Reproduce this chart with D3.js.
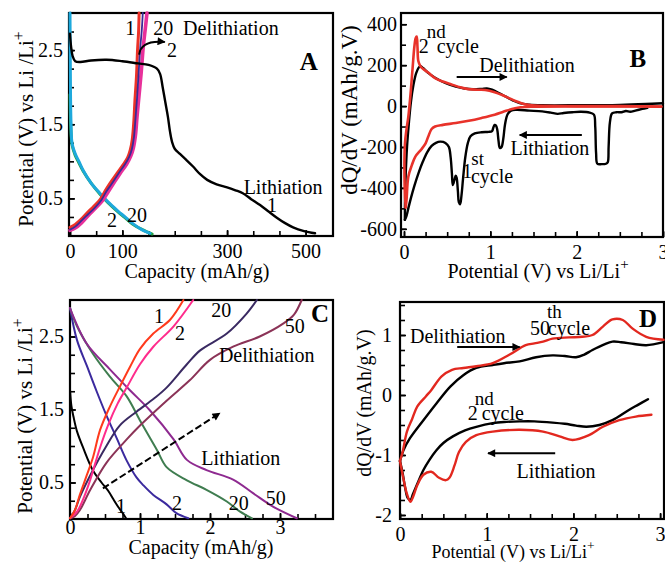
<!DOCTYPE html>
<html><head><meta charset="utf-8">
<script src="https://cdn.jsdelivr.net/npm/d3@7"></script>
<style>
body{margin:0;background:#fff}
text{font-family:"Liberation Serif","Times New Roman",serif;fill:#000}
</style>
</head><body><script>
// ---------------- DATA ----------------
// Panel A: capacity (mAh/g) vs potential (V)
const aLith1 = [[0,2.72],[2,2.55],[5,2.42],[10,2.35],[20,2.34],[40,2.36],[70,2.37],[100,2.35],[130,2.32],[150,2.3],[166,2.25],[172,2.18],[177,2.0],[182,1.8],[187,1.6],[191,1.4],[195,1.26],[200,1.17],[210,1.1],[222,1.02],[235,0.93],[248,0.83],[262,0.75],[280,0.69],[300,0.65],[316,0.61],[330,0.57],[346,0.49],[363,0.41],[380,0.32],[395,0.24],[410,0.17],[426,0.11],[447,0.06],[468,0.03]];
const aLith2 = [[0,1.9],[0.5,1.7],[1.5,1.45],[4,1.22],[10,1.08],[17,0.98],[25,0.87],[40,0.71],[57,0.56],[73,0.44],[90,0.33],[105,0.24],[120,0.15],[138,0.08],[157,0.02]];
const aLith20 = [[0,3.0],[0.5,2.4],[1,1.9],[2,1.5],[4,1.24],[10,1.1],[17,1.0],[25,0.88],[40,0.71],[57,0.57],[73,0.45],[90,0.34],[105,0.25],[120,0.16],[137,0.08],[153,0.03]];
const aDelith1 = [[0,0.11],[10,0.15],[20,0.21],[32,0.3],[45,0.39],[57,0.48],[67,0.6],[76,0.7],[90,0.84],[102,0.96],[110,1.05],[115,1.15],[119,1.3],[122,1.55],[124,1.82],[127,2.15],[129,2.5],[131,2.75],[132,3.0]];
const aDelith2 = [[0,0.08],[10,0.12],[22,0.2],[35,0.29],[48,0.38],[60,0.48],[70,0.6],[80,0.7],[93,0.84],[105,0.96],[113,1.06],[118,1.16],[122,1.32],[125,1.57],[128,1.85],[131,2.18],[134,2.52],[137,2.76],[139,3.0]];
const aDelith20 = [[0,0.07],[10,0.1],[22,0.17],[35,0.27],[49,0.37],[62,0.47],[73,0.59],[83,0.7],[96,0.84],[108,0.96],[116,1.07],[121,1.18],[125,1.35],[128,1.6],[132,1.9],[136,2.2],[140,2.55],[144,2.8],[147,3.0]];
const aXTicks = [0,50,100,150,200,250,300,350,400,450];
const aXLabelAt = [0,100,300,450];
const aXLabels = ["0","100","300","500"];
const aYTicks = [0.25,0.5,0.75,1,1.25,1.5,1.75,2,2.25,2.5,2.75];
const aYLabelAt = [0.5,1.5,2.5];
const aYLabels = ["0.5","1.5","2.5"];

// Panel B: potential (V) vs dQ/dV
const b1Lith = [[2.82,-8],[2.76,-14],[2.68,-22],[2.62,-28],[2.57,-24],[2.52,-30],[2.46,-30],[2.41,-36],[2.385,-80],[2.37,-200],[2.36,-275],[2.34,-282],[2.29,-284],[2.24,-282],[2.225,-230],[2.215,-100],[2.2,-42],[2.15,-32],[2.05,-28],[1.95,-30],[1.85,-34],[1.78,-38],[1.7,-32],[1.6,-26],[1.45,-22],[1.3,-18],[1.24,-22],[1.2,-40],[1.17,-90],[1.15,-160],[1.13,-200],[1.11,-205],[1.095,-170],[1.08,-115],[1.065,-95],[1.05,-92],[1.035,-105],[1.02,-122],[0.98,-126],[0.9,-128],[0.82,-134],[0.77,-148],[0.74,-180],[0.71,-250],[0.685,-350],[0.665,-440],[0.65,-480],[0.635,-470],[0.625,-420],[0.61,-350],[0.6,-340],[0.59,-352],[0.575,-375],[0.565,-386],[0.555,-330],[0.54,-250],[0.52,-200],[0.48,-180],[0.42,-174],[0.37,-180],[0.32,-195],[0.27,-225],[0.22,-270],[0.17,-325],[0.12,-390],[0.08,-450],[0.05,-500],[0.03,-535],[0.01,-556]];
const b1Delith = [[0.01,-556],[0.012,-450],[0.02,-330],[0.035,-200],[0.055,-90],[0.08,20],[0.11,105],[0.14,160],[0.17,188],[0.19,195],[0.22,186],[0.28,162],[0.36,138],[0.44,120],[0.52,106],[0.6,95],[0.7,86],[0.8,82],[0.9,84],[0.96,86],[1.02,80],[1.1,64],[1.18,46],[1.26,28],[1.34,14],[1.45,7],[1.6,4],[2.0,4],[2.5,6],[2.8,10],[3.0,14]];
const b2Lith = [[2.98,-3],[2.5,-2],[2.0,-2],[1.5,-3],[1.35,-6],[1.25,-14],[1.15,-28],[1.05,-42],[0.9,-58],[0.75,-72],[0.6,-83],[0.45,-92],[0.36,-100],[0.32,-112],[0.28,-150],[0.25,-182],[0.2,-212],[0.13,-248],[0.09,-290],[0.05,-345],[0.03,-455],[0.02,-495]];
const b2Delith = [[0.02,-495],[0.008,-400],[0.011,-184],[0.03,-110],[0.05,-53],[0.08,80],[0.1,188],[0.12,290],[0.135,332],[0.147,340],[0.156,290],[0.166,220],[0.19,195],[0.22,182],[0.28,164],[0.36,137],[0.45,120],[0.55,106],[0.65,92],[0.745,83],[0.85,80],[0.94,79],[1.05,68],[1.13,55],[1.21,40],[1.29,25],[1.36,14],[1.44,6],[1.52,2],[2.0,0],[2.5,0],[2.98,-2]];
const bXTicks = [0,0.25,0.5,0.75,1,1.25,1.5,1.75,2,2.25,2.5,2.75,3];
const bXLabelAt = [0,1,2,3];
const bXLabels = ["0","1","2","3"];
const bYTicks = [-600,-500,-400,-300,-200,-100,0,100,200,300,400];
const bYLabelAt = [-600,-400,-200,0,200,400];
const bYLabels = ["-600","-400","-200","0","200","400"];

// Panel C: capacity (mAh/g) vs potential (V)
const cLith1 = [[0,1.77],[0.02,1.55],[0.05,1.4],[0.1,1.2],[0.19,0.97],[0.33,0.66],[0.45,0.5],[0.55,0.38],[0.62,0.27],[0.7,0.15],[0.76,0.07],[0.8,0.01]];
const cLith2 = [[0,2.89],[0.1,2.45],[0.24,2.1],[0.38,1.75],[0.52,1.42],[0.67,1.1],[0.81,0.8],[0.95,0.57],[1.05,0.46],[1.19,0.33],[1.38,0.2],[1.52,0.08],[1.69,0.01]];
const cLith20 = [[0,2.89],[0.1,2.64],[0.33,2.26],[0.57,1.95],[0.81,1.68],[1.0,1.35],[1.24,0.95],[1.38,0.71],[1.67,0.53],[1.95,0.4],[2.24,0.24],[2.43,0.1],[2.6,0.01]];
const cLith50 = [[0,2.89],[0.24,2.4],[0.57,2.05],[0.86,1.76],[1.14,1.49],[1.48,1.09],[1.67,0.81],[1.95,0.67],[2.33,0.54],[2.62,0.35],[2.9,0.17],[3.24,0.01]];
const cDelith1 = [[0,0.01],[0.07,0.12],[0.14,0.33],[0.24,0.6],[0.33,0.85],[0.43,1.22],[0.57,1.54],[0.71,1.81],[0.86,2.09],[1.0,2.33],[1.19,2.54],[1.43,2.73],[1.62,3.0]];
const cDelith2 = [[0,0.01],[0.1,0.1],[0.2,0.3],[0.29,0.54],[0.43,0.98],[0.55,1.3],[0.68,1.58],[0.81,1.8],[1.0,2.12],[1.19,2.36],[1.48,2.64],[1.76,3.0]];
const cDelith20 = [[0,0.01],[0.07,0.12],[0.14,0.3],[0.29,0.6],[0.52,1.0],[0.71,1.28],[0.95,1.47],[1.2,1.65],[1.38,1.8],[1.67,2.12],[1.86,2.31],[2.24,2.54],[2.52,2.81],[2.67,3.0]];
const cDelith50 = [[0,0.01],[0.07,0.04],[0.14,0.12],[0.29,0.4],[0.52,0.77],[0.81,1.09],[1.0,1.28],[1.38,1.62],[1.71,1.9],[2.0,2.18],[2.33,2.36],[2.71,2.5],[3.05,2.68],[3.2,2.8],[3.31,3.0]];
const cXTicks = d3.range(0, 3.76, 0.25);
const cXLabelAt = [0,1,2,3];
const cXLabels = ["0","1","2","3"];
const cYTicks = [0.25,0.5,0.75,1,1.25,1.5,1.75,2,2.25,2.5,2.75];
const cYLabelAt = [0.5,1.5,2.5];
const cYLabels = ["0.5","1.5","2.5"];

// Panel D: potential (V) vs dQ/dV
const d2Delith = [[0.0,-1.1],[0.04,-0.92],[0.115,-0.72],[0.27,-0.42],[0.42,-0.14],[0.58,0.14],[0.73,0.33],[0.88,0.45],[1.07,0.5],[1.2,0.53],[1.38,0.56],[1.57,0.63],[1.76,0.66],[1.9,0.65],[2.03,0.63],[2.12,0.67],[2.22,0.75],[2.35,0.84],[2.45,0.89],[2.55,0.88],[2.7,0.85],[2.84,0.83],[3.04,0.88]];
const d2Lith = [[2.86,-0.07],[2.75,-0.16],[2.64,-0.25],[2.45,-0.42],[2.3,-0.5],[2.15,-0.53],[2.03,-0.51],[1.9,-0.48],[1.76,-0.46],[1.55,-0.44],[1.38,-0.44],[1.2,-0.45],[1.07,-0.47],[0.88,-0.53],[0.75,-0.59],[0.61,-0.69],[0.5,-0.8],[0.42,-0.92],[0.34,-1.08],[0.27,-1.25],[0.2,-1.48],[0.15,-1.65],[0.12,-1.75],[0.09,-1.72],[0.06,-1.55],[0.03,-1.3],[0.0,-1.1]];
const d50Delith = [[0.0,-1.1],[0.03,-0.95],[0.08,-0.61],[0.14,-0.4],[0.2,-0.19],[0.3,-0.02],[0.36,0.08],[0.48,0.31],[0.6,0.42],[0.73,0.45],[0.88,0.48],[1.07,0.53],[1.26,0.67],[1.45,0.83],[1.55,0.86],[1.65,0.89],[1.76,0.94],[1.95,0.96],[2.1,0.97],[2.22,1.0],[2.34,1.14],[2.45,1.26],[2.57,1.25],[2.68,1.11],[2.84,0.97],[3.04,0.92]];
const d50Lith = [[2.9,-0.33],[2.72,-0.36],[2.53,-0.42],[2.34,-0.53],[2.18,-0.67],[1.99,-0.75],[1.84,-0.69],[1.65,-0.61],[1.38,-0.58],[1.07,-0.61],[0.88,-0.67],[0.76,-0.78],[0.68,-0.95],[0.63,-1.17],[0.57,-1.38],[0.53,-1.42],[0.45,-1.38],[0.36,-1.28],[0.27,-1.33],[0.2,-1.5],[0.15,-1.7],[0.12,-1.78],[0.08,-1.65],[0.04,-1.4],[0.0,-1.1]];
const dXTicks = [0,0.25,0.5,0.75,1,1.25,1.5,1.75,2,2.25,2.5,2.75,3];
const dXLabelAt = [0,1,2,3];
const dXLabels = ["0","1","2","3"];
const dYTicks = d3.range(-2, 1.51, 0.25);
const dYLabelAt = [-2,-1,0,1];
const dYLabels = ["-2","-1","0","1"];

// ---------------- DRAWING ----------------
const FONT = '"Liberation Serif","Times New Roman",serif';
const svg = d3.select("body").append("svg").attr("width",665).attr("height",565);
svg.append("rect").attr("width",665).attr("height",565).attr("fill","#fff");
const defs = svg.append("defs");
defs.append("marker").attr("id","ah").attr("viewBox","0 0 10 10").attr("refX",9).attr("refY",5)
  .attr("markerWidth",10).attr("markerHeight",8).attr("markerUnits","userSpaceOnUse").attr("orient","auto")
  .append("path").attr("d","M0,0L10,5L0,10z").attr("fill","#000");

function panel(box, x, y, c) {
  const g = svg.append("g");
  g.append("g").attr("transform",`translate(0,${box.bottom})`)
    .call(d3.axisBottom(x).tickValues(c.xTicks).tickSizeInner(-5).tickSizeOuter(0).tickFormat(""))
    .call(s=>s.select(".domain").remove());
  g.append("g").attr("transform",`translate(${box.left},0)`)
    .call(d3.axisLeft(y).tickValues(c.yTicks).tickSizeInner(-5).tickSizeOuter(0).tickFormat(""))
    .call(s=>s.select(".domain").remove());
  g.append("g").attr("transform",`translate(0,${box.bottom})`)
    .call(d3.axisBottom(x).tickValues(c.xLabelAt).tickSizeInner(-6).tickSizeOuter(0).tickPadding(c.xPad).tickFormat((d,i)=>c.xLabels[i]))
    .call(s=>s.select(".domain").remove())
    .attr("font-family",FONT).attr("font-size",c.fs);
  g.append("g").attr("transform",`translate(${box.left},0)`)
    .call(d3.axisLeft(y).tickValues(c.yLabelAt).tickSizeInner(-6).tickSizeOuter(0).tickPadding(c.yPad).tickFormat((d,i)=>c.yLabels[i]))
    .call(s=>s.select(".domain").remove())
    .attr("font-family",FONT).attr("font-size",c.fs);
  g.selectAll(".tick line").attr("stroke","#000").attr("stroke-width",1.6);
  g.append("rect").attr("x",box.left).attr("y",box.top)
    .attr("width",box.right-box.left).attr("height",box.bottom-box.top)
    .attr("fill","none").attr("stroke","#000").attr("stroke-width",2.2);
  return g;
}
function curve(x, y, data, color, w) {
  const line = d3.line().x(d=>x(d[0])).y(d=>y(d[1])).curve(d3.curveCatmullRom.alpha(0.5));
  svg.append("path").attr("d",line(data)).attr("fill","none").attr("stroke",color)
    .attr("stroke-width",w).attr("stroke-linejoin","round").attr("stroke-linecap","round");
}
function label(px, py, s, opt={}) {
  const t = svg.append("text").attr("x",px).attr("y",py).attr("font-size",opt.fs||20)
    .attr("text-anchor",opt.anchor||"middle").text(s);
  if (opt.bold) t.attr("font-weight","bold");
  return t;
}
// number + raised ordinal + "cycle", as one text element
function ordinal(px, py, num, sup, word, o) {
  const t = svg.append("text").attr("x",px).attr("y",py).attr("font-size",20).text(num);
  t.append("tspan").attr("dx",o.dx1).attr("dy",-o.rise).attr("font-size",19).text(sup);
  t.append("tspan").attr("dx",o.dx2).attr("dy",o.rise+o.drop).text(word);
}
function arrow(x1,y1,x2,y2,dash) {
  const l = svg.append("line").attr("x1",x1).attr("y1",y1).attr("x2",x2).attr("y2",y2)
    .attr("stroke","#000").attr("stroke-width",2).attr("marker-end","url(#ah)");
  if (dash) l.attr("stroke-dasharray","7,3");
}
function yTitle(px, py, s, sup, fs) {
  const t = svg.append("text").attr("transform",`translate(${px},${py}) rotate(-90)`)
    .attr("text-anchor","middle").attr("font-size",fs).text(s);
  if (sup) t.append("tspan").attr("dy",-fs*0.45).attr("font-size",fs*0.75).text(sup);
}
function xTitle(px, py, s, sup, fs) {
  const t = svg.append("text").attr("x",px).attr("y",py).attr("text-anchor","middle").attr("font-size",fs).text(s);
  if (sup) t.append("tspan").attr("dy",-fs*0.45).attr("font-size",fs*0.75).text(sup);
}

// ---- Panel A ----
const boxA = {left:69,right:333,top:13,bottom:236};
const xA = d3.scaleLinear().domain([0,500]).range([70,331.8]);
const yA = d3.scaleLinear().domain([0,3]).range([235.5,13]);
panel(boxA, xA, yA, {xTicks:aXTicks,xLabelAt:aXLabelAt,xLabels:aXLabels,yTicks:aYTicks,yLabelAt:aYLabelAt,yLabels:aYLabels,xPad:8,yPad:6,fs:20});
curve(xA,yA,aLith2,"#22a040",3);
curve(xA,yA,aLith20,"#1ea9dc",3);
curve(xA,yA,aDelith20,"#e8309a",3.6);
curve(xA,yA,aDelith1,"#ec3228",3);
curve(xA,yA,aDelith2,"#3a2a96",1.8);
curve(xA,yA,aLith1,"#000",2.4);
label(xA(115),yA(2.7),"1");
label(xA(178),yA(2.7),"20");
label(xA(216),yA(2.7),"Delithiation",{anchor:"start"});
label(xA(195),yA(2.41),"2");
label(xA(407),yA(0.56),"Lithiation");
label(xA(386),yA(0.32),"1");
label(xA(80),yA(0.11),"2");
label(xA(128),yA(0.18),"20");
label(xA(456),yA(2.23),"A",{bold:true,fs:25});
{
  const p = d3.path();
  p.moveTo(xA(132),yA(2.44));
  p.quadraticCurveTo(xA(135.6),yA(2.64),xA(181),yA(2.61));
  svg.append("path").attr("d",p.toString()).attr("fill","none").attr("stroke","#000")
    .attr("stroke-width",2).attr("marker-end","url(#ah)");
}
yTitle(33,129,"Potential (V) vs Li /Li","+",21);
xTitle(197,278,"Capacity (mAh/g)",null,20);

// ---- Panel B ----
const boxB = {left:401,right:663,top:13,bottom:237};
const xB = d3.scaleLinear().domain([0,3]).range([404,663]);
const yB = d3.scaleLinear().domain([-640,455]).range([237,13]);
panel(boxB, xB, yB, {xTicks:bXTicks,xLabelAt:bXLabelAt,xLabels:bXLabels,yTicks:bYTicks,yLabelAt:bYLabelAt,yLabels:bYLabels,xPad:8,yPad:4,fs:20});
curve(xB,yB,b1Lith,"#000",2.4);
curve(xB,yB,b1Delith,"#000",2.4);
curve(xB,yB,b2Lith,"#e8322a",2.6);
curve(xB,yB,b2Delith,"#e8322a",2.6);
ordinal(xB(0.17),yB(259),"2","nd","cycle",{dx1:-2,dx2:-9,rise:15,drop:0});
label(xB(1.425),yB(166),"Delithiation");
arrow(xB(0.61),yB(142),xB(1.19),yB(142));
label(xB(1.69),yB(-239),"Lithiation");
arrow(xB(2.06),yB(-141),xB(1.34),yB(-141));
ordinal(xB(0.675),yB(-352),"1","st","cycle",{dx1:-1,dx2:-13,rise:13,drop:5});
label(xB(2.71),yB(190),"B",{bold:true,fs:25});
yTitle(357,110,"dQ/dV (mAh/g.V)",null,23);
xTitle(538,278,"Potential (V) vs Li/Li","+",20);

// ---- Panel C ----
const boxC = {left:70,right:333,top:300,bottom:519};
const xC = d3.scaleLinear().domain([0,3.757]).range([70,333]);
const yC = d3.scaleLinear().domain([0,3]).range([519,300]);
panel(boxC, xC, yC, {xTicks:cXTicks,xLabelAt:cXLabelAt,xLabels:cXLabels,yTicks:cYTicks,yLabelAt:cYLabelAt,yLabels:cYLabels,xPad:1,yPad:6,fs:20});
curve(xC,yC,cLith1,"#000",2);
curve(xC,yC,cLith2,"#3b2a9e",2);
curve(xC,yC,cLith20,"#3f7d50",2);
curve(xC,yC,cLith50,"#8e2a90",2);
curve(xC,yC,cDelith50,"#8b3357",2);
curve(xC,yC,cDelith20,"#3a2a62",2);
curve(xC,yC,cDelith2,"#ff2c8c",2);
curve(xC,yC,cDelith1,"#ff3a1c",2);
label(xC(1.27),yC(2.68),"1");
label(xC(1.57),yC(2.45),"2");
label(xC(2.16),yC(2.77),"20");
label(xC(3.21),yC(2.55),"50");
label(xC(3.57),yC(2.70),"C",{bold:true,fs:25});
label(xC(2.81),yC(2.15),"Delithiation");
label(xC(2.44),yC(0.74),"Lithiation");
label(xC(0.73),yC(0.08),"1");
label(xC(1.53),yC(0.12),"2");
label(xC(2.41),yC(0.12),"20");
label(xC(2.94),yC(0.19),"50");
arrow(xC(0.47),yC(0.42),xC(2.14),yC(1.45),true);
yTitle(32,416,"Potential (V) vs Li /Li","+",21);
xTitle(201,554,"Capacity (mAh/g)",null,20);

// ---- Panel D ----
const boxD = {left:400,right:664,top:302,bottom:519};
const xD = d3.scaleLinear().domain([0,3.045]).range([400,664]);
const yD = d3.scaleLinear().domain([-2.067,1.55]).range([519,302]);
panel(boxD, xD, yD, {xTicks:dXTicks,xLabelAt:dXLabelAt,xLabels:dXLabels,yTicks:dYTicks,yLabelAt:dYLabelAt,yLabels:dYLabels,xPad:8,yPad:8,fs:20});
curve(xD,yD,d2Delith,"#000",2.4);
curve(xD,yD,d2Lith,"#000",2.4);
curve(xD,yD,d50Delith,"#e2281f",2.4);
curve(xD,yD,d50Lith,"#e2281f",2.4);
label(xD(0.115),yD(0.87),"Delithiation",{anchor:"start"});
arrow(xD(0.66),yD(0.80),xD(1.38),yD(0.80));
ordinal(xD(1.5),yD(1.0),"50","th","cycle",{dx1:-3,dx2:-14,rise:17,drop:0});
ordinal(xD(0.78),yD(-0.42),"2","nd","cycle",{dx1:-3,dx2:-12,rise:15,drop:0});
label(xD(1.80),yD(-1.38),"Lithiation");
arrow(xD(1.79),yD(-0.97),xD(1.015),yD(-0.97));
label(xD(2.86),yD(1.13),"D",{bold:true,fs:25});
yTitle(371,403,"dQ/dV (mAh/g.V)",null,20);
xTitle(513,558,"Potential (V) vs Li/Li","+",18);
</script></body></html>
